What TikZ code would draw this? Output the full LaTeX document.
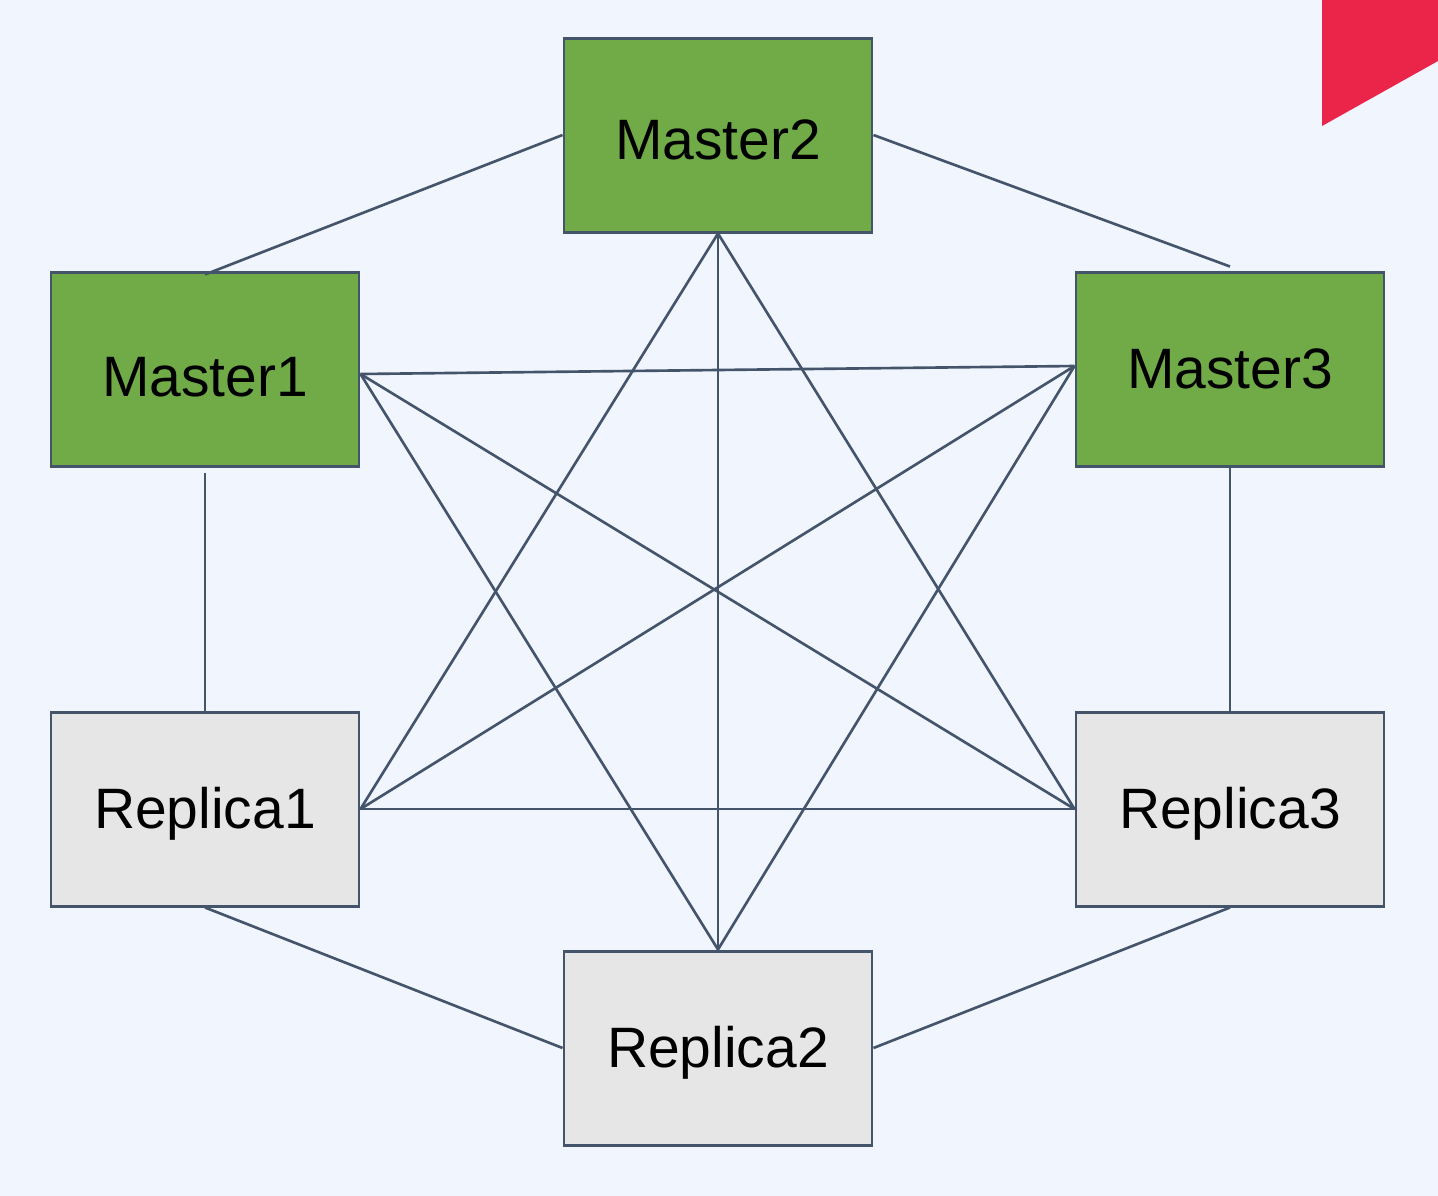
\documentclass[tikz,border=0pt]{standalone}
\usepackage{fontspec}
\setmainfont{Liberation Sans}
\usetikzlibrary{calc}
\definecolor{bgc}{HTML}{F0F5FE}
\definecolor{mgreen}{HTML}{70AB47}
\definecolor{rgray}{HTML}{E6E6E6}
\definecolor{edgec}{HTML}{44546A}
\definecolor{redc}{HTML}{EB2449}
\newcommand{\lowtxt}[2][0.05cm]{\raisebox{-#1}[\height][\depth]{#2}}
\tikzset{
  box/.style={draw=edgec, line width=0.85pt, minimum width=308*0.01cm, minimum height=194*0.01cm, inner sep=0pt, font=\fontsize{16.2}{19}\selectfont, text=black},
  master/.style={box, fill=mgreen},
  replica/.style={box, fill=rgray},
  link/.style={draw=edgec, line width=0.75pt}
}
\begin{document}
\begin{tikzpicture}[x=0.01cm,y=-0.01cm]
\useasboundingbox (0,0) rectangle (1438,1196);
\fill[bgc] (0,0) rectangle (1438,1196);
\fill[redc] (1322,0) -- (1438,0) -- (1438,61) -- (1322,126) -- cycle;

\node[master] (m2) at (718,135) {\lowtxt{Master2}};
\node[master] (m1) at (205,369) {\lowtxt[0.08cm]{Master1}};
\node[master] (m3) at (1230,369) {\lowtxt[0cm]{Master3}};
\node[replica] (r1) at (205,809) {\lowtxt{Replica1}};
\node[replica] (r3) at (1230,809) {\lowtxt{Replica3}};
\node[replica] (r2) at (718,1048) {\lowtxt{Replica2}};

\coordinate (m1e) at ($(m1.east)+(0,5)$);
\coordinate (m3w) at ($(m3.west)+(0,-3)$);
\coordinate (m1t) at ($(m1.north)+(0,4)$);
\coordinate (m3t) at ($(m3.north)+(0,-4)$);
\coordinate (m1b) at ($(m1.south)+(0,5)$);

\draw[link] (m2.west) -- (m1t);
\draw[link] (m2.east) -- (m3t);
\draw[link] (m1b) -- (r1.north);
\draw[link] (m3.south) -- (r3.north);
\draw[link] (r1.south) -- (r2.west);
\draw[link] (r2.east) -- (r3.south);

\draw[link] (m1e) -- (m3w);
\draw[link] (m1e) -- (r3.west);
\draw[link] (m1e) -- (r2.north);
\draw[link] (m2.south) -- (r1.east);
\draw[link] (m2.south) -- (r2.north);
\draw[link] (m2.south) -- (r3.west);
\draw[link] (m3w) -- (r1.east);
\draw[link] (m3w) -- (r2.north);
\draw[link] (r1.east) -- (r3.west);
\end{tikzpicture}
\end{document}
